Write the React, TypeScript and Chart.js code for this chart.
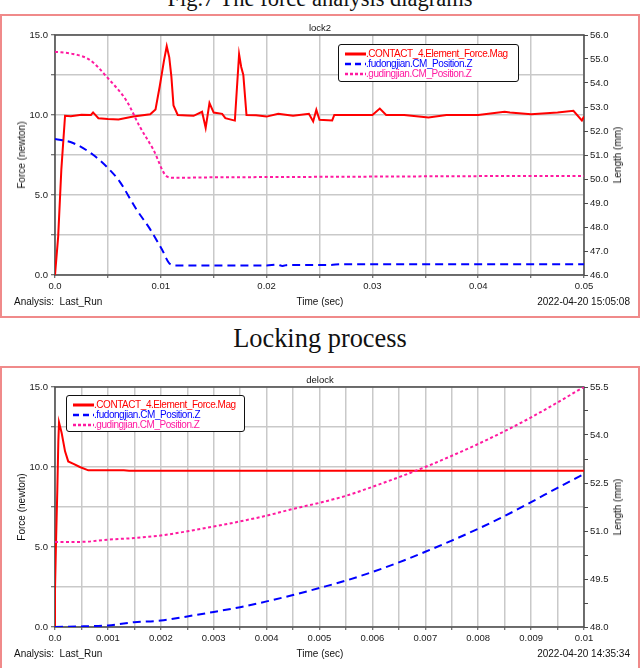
import React, { useEffect, useRef } from 'react';
import { Chart, registerables } from 'chart.js';

Chart.register(...registerables);

const SANS = '"Liberation Sans", Arial, Helvetica, sans-serif';
const SERIF = '"Liberation Serif", "Times New Roman", Times, serif';

const SERIES_NAMES = ['.CONTACT_4.Element_Force.Mag', '.fudongjian.CM_Position.Z', '.gudingjian.CM_Position.Z'];
const SERIES_COLORS = ['#ff0000', '#0000ff', '#ff1aa0'];

// ---------- lock2 ----------
const LOCK_FORCE_T = [0, 0.0003, 0.0006, 0.00095, 0.0015, 0.0025, 0.0034, 0.0036, 0.0041, 0.005, 0.006, 0.0074, 0.009, 0.0095, 0.0099, 0.0103, 0.01056, 0.0108, 0.011, 0.0112, 0.0116, 0.0125, 0.0131, 0.0139, 0.01424, 0.0146, 0.015, 0.0158, 0.0161, 0.017, 0.0174, 0.0176, 0.0178, 0.0181, 0.019, 0.02, 0.0211, 0.0225, 0.024, 0.0244, 0.0247, 0.025, 0.0262, 0.0264, 0.028, 0.03, 0.0307, 0.0313, 0.033, 0.0353, 0.037, 0.04, 0.0425, 0.043, 0.045, 0.0475, 0.049, 0.0498, 0.05];
const LOCK_FORCE = [0, 2.4, 6.6, 9.95, 9.92, 10.02, 10.0, 10.16, 9.8, 9.75, 9.72, 9.9, 10.05, 10.35, 11.8, 13.4, 14.3, 13.6, 12.4, 10.6, 10.0, 9.97, 9.95, 10.2, 9.2, 10.75, 10.15, 10.07, 9.8, 9.65, 13.8, 13.0, 12.5, 10.0, 9.98, 9.9, 10.07, 9.95, 10.07, 9.6, 10.32, 9.7, 9.66, 10.0, 10.0, 10.0, 10.4, 10.0, 10.0, 9.85, 10.0, 10.0, 10.2, 10.15, 10.05, 10.15, 10.26, 9.66, 9.9];
const LOCK_FUDONG_T = [0, 0.0017, 0.0036, 0.005, 0.0061, 0.0077, 0.009, 0.0101, 0.0109, 0.0115, 0.02, 0.021, 0.0215, 0.022, 0.026, 0.027, 0.04, 0.05];
const LOCK_FUDONG = [51.67, 51.5, 51.01, 50.46, 49.9, 48.73, 47.9, 47.07, 46.45, 46.4, 46.4, 46.43, 46.38, 46.42, 46.42, 46.45, 46.45, 46.45];
const LOCK_GUDING_T = [0, 0.0017, 0.0033, 0.005, 0.0068, 0.008, 0.0093, 0.01056, 0.0112, 0.015, 0.02, 0.03, 0.04, 0.05];
const LOCK_GUDING = [55.3, 55.21, 54.96, 54.2, 53.23, 52.19, 51.22, 50.11, 50.05, 50.07, 50.08, 50.1, 50.12, 50.13];

const LOCK_X_TICKS = [0, 0.005, 0.01, 0.015, 0.02, 0.025, 0.03, 0.035, 0.04, 0.045, 0.05];
const LOCK_X_LABELS = ['0.0', '', '0.01', '', '0.02', '', '0.03', '', '0.04', '', '0.05'];
const LOCK_R_TICKS = [46, 46.5, 47, 47.5, 48, 48.5, 49, 49.5, 50, 50.5, 51, 51.5, 52, 52.5, 53, 53.5, 54, 54.5, 55, 55.5, 56];
const LOCK_R_LABELS = ['46.0', '', '47.0', '', '48.0', '', '49.0', '', '50.0', '', '51.0', '', '52.0', '', '53.0', '', '54.0', '', '55.0', '', '56.0'];

// ---------- delock ----------
const DELOCK_FORCE_T = [0, 0, 0.000019, 0.000044, 0.000063, 0.000076, 0.000126, 0.00019, 0.00025, 0.00035, 0.00047, 0.00063, 0.0013, 0.0014, 0.01];
const DELOCK_FORCE = [0, 2.33, 5.25, 8.58, 11.6, 12.79, 12.12, 10.98, 10.35, 10.2, 10.0, 9.79, 9.79, 9.76, 9.76];
const DELOCK_FUDONG_T = [0, 0.00054, 0.001, 0.0015, 0.002, 0.0025, 0.003, 0.0035, 0.004, 0.0045, 0.005, 0.0055, 0.006, 0.0065, 0.007, 0.0075, 0.008, 0.0085, 0.009, 0.0095, 0.01];
const DELOCK_FUDONG = [48.0, 48.02, 48.05, 48.15, 48.2, 48.33, 48.47, 48.62, 48.8, 49.0, 49.22, 49.45, 49.72, 50.02, 50.35, 50.7, 51.07, 51.47, 51.9, 52.35, 52.78];
const DELOCK_GUDING_T = [0, 0.0005, 0.001, 0.0015, 0.002, 0.0025, 0.003, 0.0035, 0.004, 0.0045, 0.005, 0.0055, 0.006, 0.0065, 0.007, 0.0075, 0.008, 0.0085, 0.009, 0.0095, 0.01];
const DELOCK_GUDING = [50.66, 50.66, 50.73, 50.78, 50.86, 50.99, 51.14, 51.3, 51.48, 51.69, 51.88, 52.1, 52.38, 52.68, 53.0, 53.35, 53.72, 54.12, 54.55, 55.02, 55.5];

const DELOCK_X_TICKS = [0, 0.0005, 0.001, 0.0015, 0.002, 0.0025, 0.003, 0.0035, 0.004, 0.0045, 0.005, 0.0055, 0.006, 0.0065, 0.007, 0.0075, 0.008, 0.0085, 0.009, 0.0095, 0.01];
const DELOCK_X_LABELS = ['0.0', '', '0.001', '', '0.002', '', '0.003', '', '0.004', '', '0.005', '', '0.006', '', '0.007', '', '0.008', '', '0.009', '', '0.01'];
const DELOCK_R_TICKS = [48, 48.75, 49.5, 50.25, 51, 51.75, 52.5, 53.25, 54, 54.75, 55.5];
const DELOCK_R_LABELS = ['48.0', '', '49.5', '', '51.0', '', '52.5', '', '54.0', '', '55.5'];

const FORCE_TICKS = [0, 2.5, 5, 7.5, 10, 12.5, 15];
const FORCE_LABELS = ['0.0', '', '5.0', '', '10.0', '', '15.0'];

// ---------- layout ----------
const W = 640;
const BOX_H = 304;
const PLOT_TOP = 21;
const PLOT_BOTTOM = 261;
const PLOT_LEFT = 55;
const PLOT_RIGHT = 584;
const GRID = '#c9c9c9';
const AXIS = '#4a4a4a';
const TICK_FONT = { family: SANS, size: 9.5 };

const framePlugin = {
  id: 'frame',
  beforeDatasetsDraw(chart: any) {
    const { ctx, chartArea } = chart;
    ctx.save();
    ctx.strokeStyle = AXIS;
    ctx.lineWidth = 1.5;
    ctx.strokeRect(chartArea.left, chartArea.top, chartArea.right - chartArea.left, chartArea.bottom - chartArea.top);
    ctx.restore();
  },
};

type Series = { t: number[]; v: number[]; axis: string; idx: number; smooth: boolean };
type Cfg = {
  top: number;
  title: string;
  date: string;
  xMax: number;
  xTicks: number[];
  xLabels: string[];
  rMin: number;
  rMax: number;
  rTicks: number[];
  rLabels: string[];
  series: Series[];
  legend: { left: number; top: number; width: number; height: number };
};

const DASHES = [[], [8, 5], [3, 2.5]];
const WIDTHS = [2, 2, 2];

function Panel({ cfg }: { cfg: Cfg }) {
  const ref = useRef<HTMLCanvasElement>(null);
  useEffect(() => {
    const chart = new Chart(ref.current as HTMLCanvasElement, {
      type: 'line',
      data: {
        datasets: cfg.series.map((s) => ({
          label: SERIES_NAMES[s.idx],
          data: s.t.map((t, i) => ({ x: t, y: s.v[i] })),
          yAxisID: s.axis,
          borderColor: SERIES_COLORS[s.idx],
          backgroundColor: SERIES_COLORS[s.idx],
          borderWidth: WIDTHS[s.idx],
          borderDash: DASHES[s.idx],
          pointRadius: 0,
          tension: 0,
          cubicInterpolationMode: s.smooth ? 'monotone' : 'default',
          fill: false,
        })),
      } as any,
      options: {
        animation: false,
        responsive: false,
        devicePixelRatio: 1,
        layout: { padding: { top: PLOT_TOP, left: 0, right: 0, bottom: 0 } },
        plugins: { legend: { display: false }, title: { display: false }, tooltip: { enabled: false } },
        scales: {
          x: {
            type: 'linear',
            min: 0,
            max: cfg.xMax,
            afterBuildTicks: (s: any) => {
              s.ticks = cfg.xTicks.map((v) => ({ value: v }));
            },
            afterFit: (s: any) => {
              s.height = BOX_H - PLOT_BOTTOM;
            },
            ticks: {
              autoSkip: false,
              maxRotation: 0,
              minRotation: 0,
              padding: 3,
              font: TICK_FONT,
              color: '#1a1a1a',
              callback: (_v: any, i: number) => cfg.xLabels[i] ?? '',
            },
            grid: { color: GRID, lineWidth: 1.5, drawTicks: true, tickLength: 3, tickColor: AXIS, tickWidth: 1 },
            border: { display: false },
          },
          y: {
            type: 'linear',
            position: 'left',
            min: 0,
            max: 15,
            afterBuildTicks: (s: any) => {
              s.ticks = FORCE_TICKS.map((v) => ({ value: v }));
            },
            afterFit: (s: any) => {
              s.width = PLOT_LEFT;
            },
            ticks: {
              padding: 3,
              font: TICK_FONT,
              color: '#1a1a1a',
              callback: (_v: any, i: number) => FORCE_LABELS[i] ?? '',
            },
            grid: { color: GRID, lineWidth: 1.5, drawTicks: true, tickLength: 4, tickColor: AXIS, tickWidth: 1 },
            border: { display: false },
          },
          y1: {
            type: 'linear',
            position: 'right',
            min: cfg.rMin,
            max: cfg.rMax,
            afterBuildTicks: (s: any) => {
              s.ticks = cfg.rTicks.map((v) => ({ value: v }));
            },
            afterFit: (s: any) => {
              s.width = W - PLOT_RIGHT;
            },
            ticks: {
              padding: 2,
              font: TICK_FONT,
              color: '#1a1a1a',
              callback: (_v: any, i: number) => cfg.rLabels[i] ?? '',
            },
            grid: { drawOnChartArea: false, drawTicks: true, tickLength: 4, tickColor: AXIS, tickWidth: 1, color: AXIS },
            border: { display: false },
          },
        },
      } as any,
      plugins: [framePlugin],
    });
    return () => chart.destroy();
  }, [cfg]);

  const T = cfg.top;
  const midY = T + (PLOT_TOP + PLOT_BOTTOM) / 2;
  const footY = T + 288;
  return (
    <>
      <div
        style={{
          position: 'absolute',
          left: 0,
          top: T,
          width: W,
          height: BOX_H,
          boxSizing: 'border-box',
          border: '2px solid #f08a8a',
        }}
      />
      <canvas
        ref={ref}
        width={W}
        height={BOX_H}
        style={{ position: 'absolute', left: 0, top: T, width: W, height: BOX_H }}
      />
      <Txt x={320} y={T + 14} align="center">{cfg.title}</Txt>
      <Txt x={22} y={midY} align="center" rotate size={10}>Force (newton)</Txt>
      <Txt x={618} y={midY} align="center" rotate size={10}>Length (mm)</Txt>
      <Txt x={14} y={footY} size={10}>Analysis:&nbsp; Last_Run</Txt>
      <Txt x={320} y={footY} align="center" size={10}>Time (sec)</Txt>
      <Txt x={630} y={footY} align="right" size={10}>{cfg.date}</Txt>
      <Legend {...cfg.legend} />
    </>
  );
}

function Txt({
  x,
  y,
  children,
  align = 'left',
  rotate = false,
  size = 9.5,
  color = '#111',
  family = SANS,
}: {
  x: number;
  y: number;
  children: any;
  align?: string;
  rotate?: boolean;
  size?: number;
  color?: string;
  family?: string;
}) {
  const tx = align === 'center' ? '-50%' : align === 'right' ? '-100%' : '0';
  return (
    <div
      style={{
        position: 'absolute',
        left: x,
        top: y,
        whiteSpace: 'nowrap',
        fontFamily: family,
        fontSize: size,
        lineHeight: 1,
        color,
        transform: `translate(${tx}, -50%)` + (rotate ? ' rotate(-90deg)' : ''),
      }}
    >
      {children}
    </div>
  );
}

function Legend({ left, top, width, height }: { left: number; top: number; width: number; height: number }) {
  const rows = [8.5, 19, 29.2];
  return (
    <div
      style={{
        position: 'absolute',
        left,
        top,
        width,
        height,
        boxSizing: 'border-box',
        border: '1.5px solid #111',
        borderRadius: 3,
        background: '#fff',
      }}
    >
      {SERIES_NAMES.map((name, i) => (
        <div key={name} style={{ position: 'absolute', left: 0, top: rows[i] - 6, height: 12, width: width - 4 }}>
          <svg width={24} height={12} style={{ position: 'absolute', left: 5, top: 0 }}>
            <line
              x1={1}
              y1={6}
              x2={22}
              y2={6}
              stroke={SERIES_COLORS[i]}
              strokeWidth={i === 0 ? 3 : 2.5}
              strokeDasharray={i === 1 ? '6 4' : i === 2 ? '3 2' : undefined}
            />
          </svg>
          <div
            style={{
              position: 'absolute',
              left: 27,
              top: 0,
              height: 12,
              lineHeight: '12px',
              fontFamily: SANS,
              fontSize: 10,
              letterSpacing: -0.45,
              color: SERIES_COLORS[i],
              whiteSpace: 'nowrap',
            }}
          >
            {name}
          </div>
        </div>
      ))}
    </div>
  );
}

const LOCK_CFG: Cfg = {
  top: 14,
  title: 'lock2',
  date: '2022-04-20 15:05:08',
  xMax: 0.05,
  xTicks: LOCK_X_TICKS,
  xLabels: LOCK_X_LABELS,
  rMin: 46,
  rMax: 56,
  rTicks: LOCK_R_TICKS,
  rLabels: LOCK_R_LABELS,
  series: [
    { t: LOCK_FUDONG_T, v: LOCK_FUDONG, axis: 'y1', idx: 1, smooth: true },
    { t: LOCK_GUDING_T, v: LOCK_GUDING, axis: 'y1', idx: 2, smooth: true },
    { t: LOCK_FORCE_T, v: LOCK_FORCE, axis: 'y', idx: 0, smooth: false },
  ],
  legend: { left: 338, top: 44, width: 181, height: 38 },
};

const DELOCK_CFG: Cfg = {
  top: 366,
  title: 'delock',
  date: '2022-04-20 14:35:34',
  xMax: 0.01,
  xTicks: DELOCK_X_TICKS,
  xLabels: DELOCK_X_LABELS,
  rMin: 48,
  rMax: 55.5,
  rTicks: DELOCK_R_TICKS,
  rLabels: DELOCK_R_LABELS,
  series: [
    { t: DELOCK_FUDONG_T, v: DELOCK_FUDONG, axis: 'y1', idx: 1, smooth: true },
    { t: DELOCK_GUDING_T, v: DELOCK_GUDING, axis: 'y1', idx: 2, smooth: true },
    { t: DELOCK_FORCE_T, v: DELOCK_FORCE, axis: 'y', idx: 0, smooth: false },
  ],
  legend: { left: 66, top: 395, width: 179, height: 37 },
};

export default function App() {
  return (
    <div
      style={{
        position: 'absolute',
        left: 0,
        top: 0,
        width: W,
        height: 668,
        overflow: 'hidden',
        background: '#fff',
      }}
    >
      <div
        style={{
          position: 'absolute',
          left: 0,
          width: W,
          top: -12,
          textAlign: 'center',
          fontFamily: SERIF,
          fontSize: 22.5,
          lineHeight: 1,
          whiteSpace: 'nowrap',
          color: '#111',
        }}
      >
        Fig.7 The force analysis diagrams
      </div>
      <Panel cfg={LOCK_CFG} />
      <div
        style={{
          position: 'absolute',
          left: 0,
          width: W,
          top: 325,
          textAlign: 'center',
          fontFamily: SERIF,
          fontSize: 26.4,
          lineHeight: 1,
          whiteSpace: 'nowrap',
          color: '#111',
        }}
      >
        Locking process
      </div>
      <Panel cfg={DELOCK_CFG} />
    </div>
  );
}
